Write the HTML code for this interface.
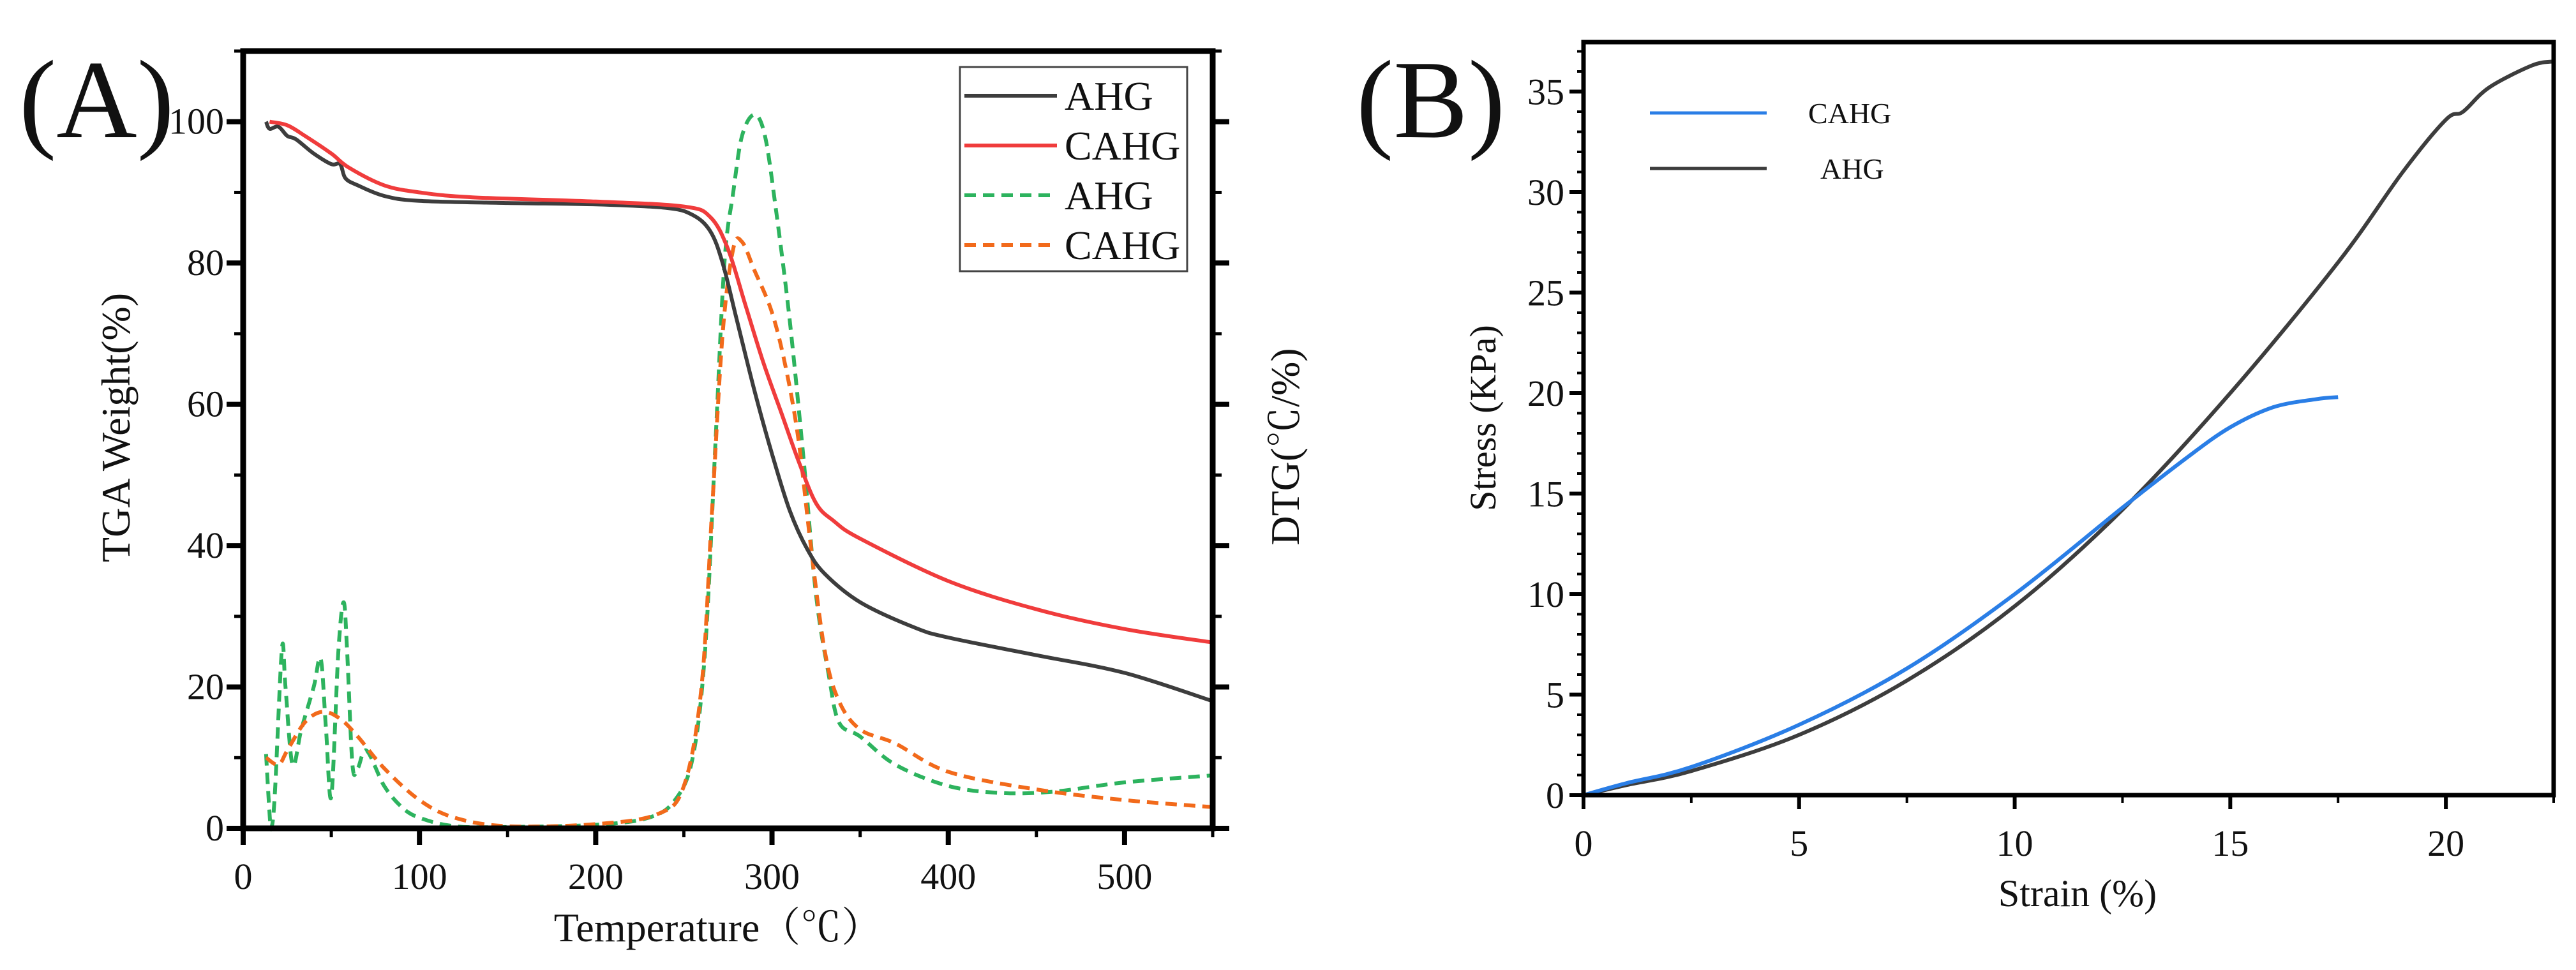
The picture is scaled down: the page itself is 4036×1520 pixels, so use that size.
<!DOCTYPE html>
<html><head><meta charset="utf-8"><style>
html,body{margin:0;padding:0;background:#fff}
svg{display:block}
text{font-family:"Liberation Serif","Noto Serif CJK SC",serif;fill:#111}
</style></head><body>
<svg id="svg" width="4036" height="1520" viewBox="0 0 4036 1520" xmlns="http://www.w3.org/2000/svg">
<text x="30" y="215" font-size="175">(A)</text>
<text x="2125" y="215" font-size="175">(B)</text>
<g id="gA"></g>
<g id="gB"></g>
</svg>
<script>
// ---- Panel A data ----
const aXTicks=[0,100,200,300,400,500];
const aYTicks=[0,20,40,60,80,100];
const tgaAhgX=[13,15,20,25,30,40,50,55,58,65,80,100,150,200,240,255,265,272,280,290,300,310,320,330,350,380,400,450,500,550];
const tgaAhgY=[100,99,99.3,98,97.5,95.5,94,94,92,91,89.5,88.8,88.5,88.3,87.8,86.8,84.5,80,72,62,53,45,39.5,36,32,28.5,27,24.5,22,18];
const tgaCahgX=[15,25,35,50,60,80,100,130,200,250,265,275,285,295,305,315,325,335,350,400,450,500,550];
const tgaCahgY=[100,99.5,98,95.5,93.5,91,90,89.3,88.7,88,86.5,82,74,66,59,52,46,43.5,41,35,31,28.2,26.3];
const dtgAhgX=[13,15,16,18,22,24,28,33,40,44,47,50,54,57,59,62,65,70,80,90,100,120,150,200,230,245,255,262,268,273,278,283,290,296,302,310,318,325,332,338,350,370,400,430,460,500,550];
const dtgAhgY=[10.5,2,0,5,25.5,20,9,14,20,24,14,4.5,25,32,25,9,8.5,11,6,3,1.5,0.3,0.2,0.5,1.5,4,10,25,55,80,90,98,101,98,88,72,52,33,22,15,13,9,6,5,5.2,6.5,7.5];
const dtgCahgX=[13,20,25,35,45,55,65,80,100,120,150,200,235,250,260,266,272,278,283,290,300,308,315,322,330,338,350,370,400,450,500,550];
const dtgCahgY=[10,9,11,15,16.5,15.5,13,8.5,4,1.5,0.3,0.6,2,6,20,45,70,82,83,79,73,65,55,40,25,18,14,12,8,5.5,4,3];
// ---- Panel B data ----
const bXTicks=[0,5,10,15,20];
const bYTicks=[0,5,10,15,20,25,30,35];
const ahgStrain=[0,1,2.5,5,7.5,10,12.5,15,17.5,19,20,20.4,21,22,22.5];
const ahgStress=[0,0.5,1.2,3,5.7,9.4,14.2,20,26.5,31,33.6,34,35.2,36.3,36.5];
const cahgStrain=[0,1,2.5,5,7.5,10,12.5,14,15,16,17,17.5];
const cahgStress=[0,0.6,1.4,3.5,6.3,10,14.3,16.8,18.3,19.3,19.7,19.8];

const NS="http://www.w3.org/2000/svg";
function mk(parent,tag,attrs,txt){const e=document.createElementNS(NS,tag);for(const k in attrs)e.setAttribute(k,attrs[k]);if(txt!==undefined)e.textContent=txt;parent.appendChild(e);return e;}

const A={l:381,r:1900,t:80,b:1298,xmin:0,xmax:550,ymin:0,ymax:110};
const ax=v=>A.l+(v-A.xmin)/(A.xmax-A.xmin)*(A.r-A.l);
const ay=v=>A.b-(v-A.ymin)/(A.ymax-A.ymin)*(A.b-A.t);
const gA=document.getElementById('gA');
function path(g,xs,ys,fx,fy,color,w,dash,name){
  const P=xs.map((x,i)=>[fx(x),fy(ys[i])]);
  let d='M'+P[0][0].toFixed(1)+' '+P[0][1].toFixed(1);
  for(let i=0;i<P.length-1;i++){
    const p0=P[Math.max(0,i-1)],p1=P[i],p2=P[i+1],p3=P[Math.min(P.length-1,i+2)];
    const c1=[p1[0]+(p2[0]-p0[0])/6,p1[1]+(p2[1]-p0[1])/6];
    const c2=[p2[0]-(p3[0]-p1[0])/6,p2[1]-(p3[1]-p1[1])/6];
    d+='C'+c1[0].toFixed(1)+' '+c1[1].toFixed(1)+' '+c2[0].toFixed(1)+' '+c2[1].toFixed(1)+' '+p2[0].toFixed(1)+' '+p2[1].toFixed(1);
  }
  const p=mk(g,'path',{d:d,fill:'none',stroke:color,'stroke-width':w,'stroke-linejoin':'round'});
  if(dash)p.setAttribute('stroke-dasharray',dash);
  
  
  return p;
}
path(gA,dtgAhgX,dtgAhgY,ax,ay,'#2db35e',6,'18 11','dtg-ahg-line');
path(gA,dtgCahgX,dtgCahgY,ax,ay,'#f26a1b',6,'18 11','dtg-cahg-line');
path(gA,tgaAhgX,tgaAhgY,ax,ay,'#3d3d3d',6,null,'tga-ahg-line');
path(gA,tgaCahgX,tgaCahgY,ax,ay,'#f03c3c',6,null,'tga-cahg-line');
mk(gA,'rect',{x:A.l,y:A.t,width:A.r-A.l,height:A.b-A.t,fill:'none',stroke:'#000','stroke-width':9,});
for(let v=0;v<=550;v+=50){
  const t=mk(gA,'line',{x1:ax(v),x2:ax(v),y1:A.b,y2:A.b+(v%100?14:26),stroke:'#000','stroke-width':v%100?5:8});
  
  
}
aXTicks.forEach(v=>{const t=mk(gA,'text',{x:ax(v),y:A.b+95,'font-size':58,'text-anchor':'middle'},String(v));
  });
for(let v=0;v<=110;v+=10){
  [[A.l,-1],[A.r,1]].forEach(([x,s])=>{
    const t=mk(gA,'line',{x1:x,x2:x+s*(v%20?14:26),y1:ay(v),y2:ay(v),stroke:'#000','stroke-width':v%20?5:8});
    
    
  });
}
aYTicks.forEach(v=>{const t=mk(gA,'text',{x:A.l-30,y:ay(v)+19,'font-size':58,'text-anchor':'end'},String(v));
  });
mk(gA,'text',{x:0,y:0,'font-size':64,'text-anchor':'middle',transform:'translate(203,670) rotate(-90)',},'TGA Weight(%)');
mk(gA,'text',{x:0,y:0,'font-size':64,'text-anchor':'middle',transform:'translate(2035,700) rotate(-90)',},'DTG(℃/%)');
mk(gA,'text',{x:1125,y:1475,'font-size':64,'text-anchor':'middle',},'Temperature（℃）');
const lg=mk(gA,'g',{});
mk(lg,'rect',{x:1504,y:105,width:356,height:320,fill:'#fff',stroke:'#444','stroke-width':3});
const legA=[['AHG','#3d3d3d',null],['CAHG','#f03c3c',null],['AHG','#2db35e','18 11'],['CAHG','#f26a1b','18 11']];
legA.forEach((e,i)=>{const y=150+i*78;
  const g=mk(lg,'g',{});
  const l=mk(g,'line',{x1:1511,x2:1656,y1:y,y2:y,stroke:e[1],'stroke-width':6});
  if(e[2])l.setAttribute('stroke-dasharray',e[2]);
  mk(g,'text',{x:1668,y:y+22,'font-size':64},e[0]);
});

const B={l:2481,r:4001,t:66,b:1246,xmin:0,xmax:22.5,ymin:0,ymax:37.46};
const bx=v=>B.l+(v-B.xmin)/(B.xmax-B.xmin)*(B.r-B.l);
const by=v=>B.b-(v-B.ymin)/(B.ymax-B.ymin)*(B.b-B.t);
const gB=document.getElementById('gB');
path(gB,ahgStrain,ahgStress,bx,by,'#3d3d3d',6,null,'ahg-stress-line');
path(gB,cahgStrain,cahgStress,bx,by,'#2a7ee6',6,null,'cahg-stress-line');
mk(gB,'rect',{x:B.l,y:B.t,width:B.r-B.l,height:B.b-B.t,fill:'none',stroke:'#000','stroke-width':7,});
for(let v=0;v<=22.5;v+=2.5){
  const major=Math.abs(v%5)<1e-9;
  const t=mk(gB,'line',{x1:bx(v),x2:bx(v),y1:B.b,y2:B.b+(major?22:12),stroke:'#000','stroke-width':major?6:4});
  
  
}
bXTicks.forEach(v=>{const t=mk(gB,'text',{x:bx(v),y:B.b+95,'font-size':58,'text-anchor':'middle'},String(v));
  });
for(let v=0;v<=37;v+=1){
  const major=v%5===0;
  const t=mk(gB,'line',{x1:B.l,x2:B.l-(major?22:10),y1:by(v),y2:by(v),stroke:'#000','stroke-width':major?6:4});
  
  
}
bYTicks.forEach(v=>{const t=mk(gB,'text',{x:B.l-30,y:by(v)+20,'font-size':58,'text-anchor':'end'},String(v));
  });
mk(gB,'text',{x:0,y:0,'font-size':58,'text-anchor':'middle',transform:'translate(2343,655) rotate(-90)',},'Stress (KPa)');
mk(gB,'text',{x:3255,y:1420,'font-size':60,'text-anchor':'middle',},'Strain (%)');
const lgB=mk(gB,'g',{});
[['CAHG','#2a7ee6',177,2833],['AHG','#3d3d3d',264,2852]].forEach(e=>{
  const g=mk(lgB,'g',{});
  mk(g,'line',{x1:2585,x2:2768,y1:e[2],y2:e[2],stroke:e[1],'stroke-width':5});
  mk(g,'text',{x:e[3],y:e[2]+16,'font-size':46},e[0]);
});
</script>
</body></html>
